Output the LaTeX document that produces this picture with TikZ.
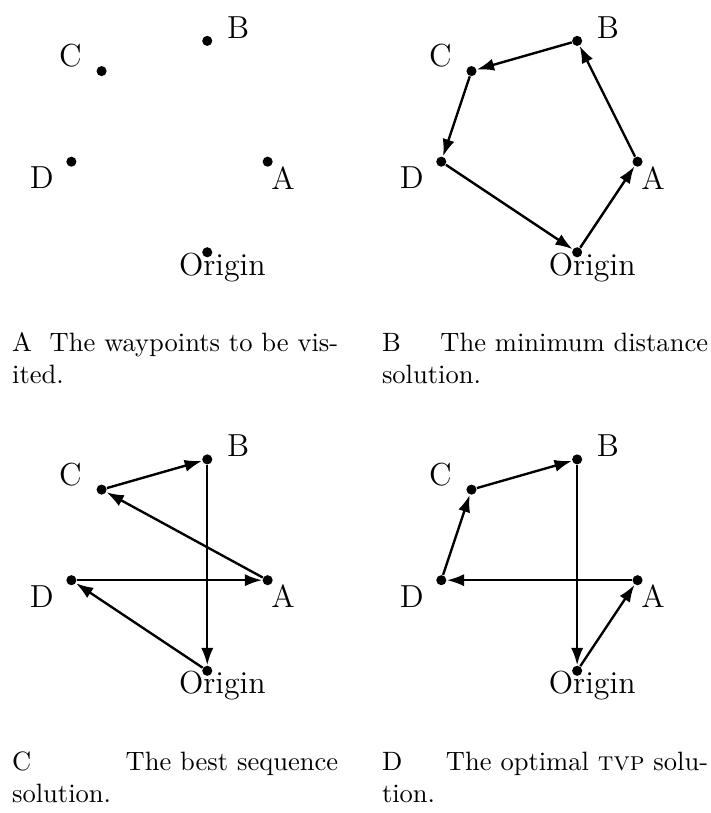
\documentclass[tikz,border=0pt]{standalone}
\usepackage{amsmath}
\usepackage{xcolor}
\usepackage{tikz}
\usetikzlibrary{arrows.meta}

\newcommand\capgap{\hskip 0pt plus 1fil\relax}

\begin{document}
\begin{tikzpicture}[x=0.4cm,y=0.4cm,
  wpt/.style={circle,fill,inner sep=0pt,minimum size=3.8pt},
  lbl/.style={font=\large,inner sep=0pt},
  captext/.style={text width=122.9pt,align=justify,anchor=base west,inner sep=0pt},
  leg/.style={line width=0.9pt,-{Latex[length=6.5pt,width=4.6pt]}}]
  \useasboundingbox (-6.864,-18.57) rectangle (16.68,8.354);
  \foreach \p/\sx/\sy in {a/0/0,b/12.25/0,c/0/-13.86,d/12.25/-13.86}
    \begin{scope}[shift={(\sx,\sy)},name prefix=\p-]
      \foreach \n/\x/\y/\lx/\ly/\t in {o/0/0/0.5/-0.49/Origin,A/2/3/2.51/2.47/A,
          B/0/7/1.02/7.45/B,C/-3.5/6/-4.53/6.5/C,D/-4.5/3/-5.48/2.47/D} {
        \node[wpt] (\n) at (\x,\y) {};
        \node[lbl] (l\n) at (\lx,\ly) {\t};
      }
    \end{scope};
  \draw[leg] (b-o) -- (b-A);
  \draw[leg] (b-A) -- (b-B);
  \draw[leg] (b-B) -- (b-C);
  \draw[leg] (b-C) -- (b-D);
  \draw[leg] (b-D) -- (b-o);
  \draw[leg] (c-o) -- (c-D);
  \draw[leg] (c-D) -- (c-A);
  \draw[leg] (c-A) -- (c-C);
  \draw[leg] (c-C) -- (c-B);
  \draw[leg] (c-B) -- (c-o);
  \draw[leg] (d-o) -- (d-A);
  \draw[leg] (d-A) -- (d-D);
  \draw[leg] (d-D) -- (d-C);
  \draw[leg] (d-C) -- (d-B);
  \draw[leg] (d-B) -- (d-o);
  \node[captext] (a-cap) at (-6.48,-3.30) {A\capgap The waypoints to be vis-\linebreak ited.};
  \node[captext] (b-cap) at (5.77,-3.30) {B\capgap The minimum distance\linebreak solution.};
  \node[captext] (c-cap) at (-6.48,-17.16) {C\capgap The best sequence\linebreak solution.};
  \node[captext] (d-cap) at (5.77,-17.16) {D\capgap The optimal \textsc{tvp} solu-\linebreak tion.};
\end{tikzpicture}
\end{document}
